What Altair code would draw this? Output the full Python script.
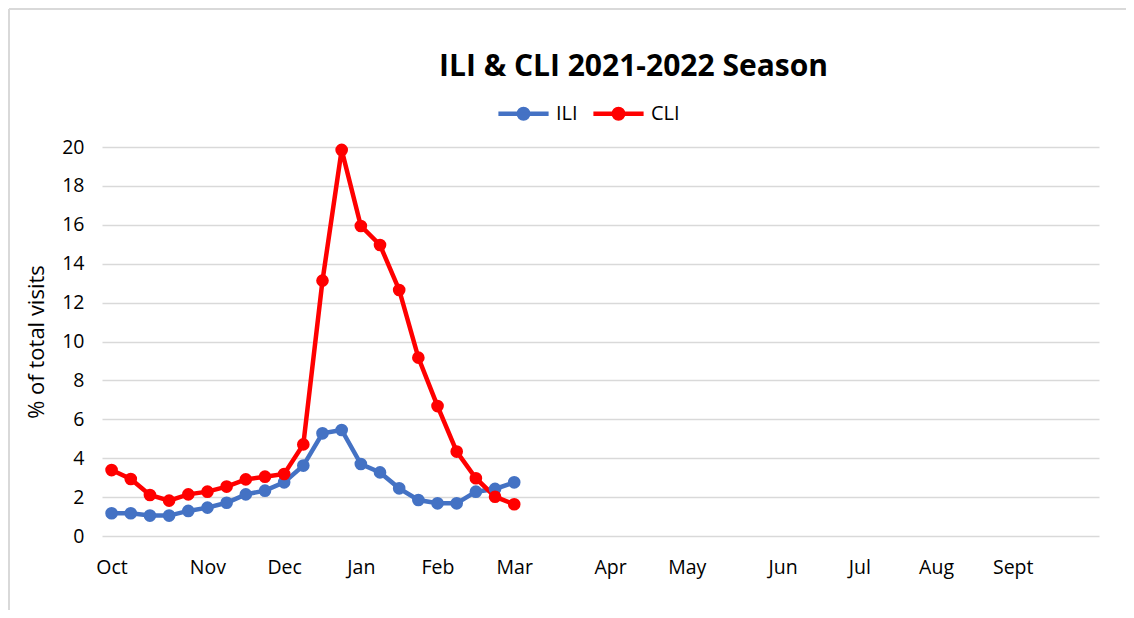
import altair as alt
import pandas as pd

# ---- data ----
weeks = list(range(22))  # weekly index from first week of Oct
ili = [1.17, 1.17, 1.05, 1.05, 1.29, 1.46, 1.71, 2.14, 2.33, 2.76, 3.62,
       5.28, 5.45, 3.70, 3.27, 2.45, 1.85, 1.68, 1.68, 2.28, 2.42, 2.76]
cli = [3.39, 2.93, 2.11, 1.82, 2.14, 2.28, 2.54, 2.91, 3.05, 3.19, 4.71,
       13.13, 19.85, 15.94, 14.96, 12.65, 9.17, 6.68, 4.34, 2.97, 2.02, 1.63]
series = ["ILI", "CLI"]
colors = ["#4472C4", "#FF0000"]
month_weeks = [0, 5, 9, 13, 17, 21, 26, 30, 35, 39, 43, 47]
month_labels = ["Oct", "Nov", "Dec", "Jan", "Feb", "Mar", "Apr", "May",
                "Jun", "Jul", "Aug", "Sept"]
n_weeks = 52
y_ticks = list(range(0, 21, 2))

rows = []
for name, vals in zip(series, [ili, cli]):
    for w, v in zip(weeks, vals):
        rows.append({"week": w, "value": v, "series": name})
df = pd.DataFrame(rows)

FONT = "Open Sans"
GRID = "#D9D9D9"

label_expr = "[" + ",".join("'%s'" % m for m in month_labels) + "][indexof([" + \
    ",".join(str(w) for w in month_weeks) + "], datum.value)]"

x_enc = alt.X("week:Q",
              scale=alt.Scale(domain=[-0.5, n_weeks - 0.5], nice=False, zero=False),
              axis=alt.Axis(values=month_weeks, labelExpr=label_expr, title=None,
                            grid=False, ticks=False, domain=False,
                            labelFont=FONT, labelFontSize=19.5, labelColor="#000000",
                            labelPadding=22, labelFlush=False, labelOverlap=False))
y_enc = alt.Y("value:Q",
              scale=alt.Scale(domain=[0, 20], nice=False),
              axis=alt.Axis(values=y_ticks, title="% of total visits",
                            titleFont=FONT, titleFontSize=22, titleFontWeight="normal",
                            titleColor="#000000", titlePadding=13,
                            grid=True, gridColor=GRID, gridWidth=1.6,
                            ticks=False, domain=False,
                            labelFont=FONT, labelFontSize=19.5, labelColor="#000000",
                            labelPadding=18))

legend_symbol = ("M-1,-0.07L1,-0.07L1,0.07L-1,0.07Z"
                 "M-0.26,0A0.26,0.26,0,1,1,0.26,0A0.26,0.26,0,1,1,-0.26,0Z")

color_enc = alt.Color("series:N", scale=alt.Scale(domain=series, range=colors),
                      legend=alt.Legend(title=None, orient="none", direction="horizontal",
                                        legendX=396, legendY=-59,
                                        symbolType=legend_symbol, symbolSize=2401,
                                        symbolStrokeWidth=1.2, labelOffset=7,
                                        columnPadding=13, padding=0,
                                        labelFont=FONT, labelFontSize=20,
                                        labelColor="#000000"))

lines = alt.Chart(df).mark_line(strokeWidth=4.5).encode(
    x=x_enc, y=y_enc, color=color_enc,
)

points = alt.Chart(df).mark_point(filled=True, size=160, opacity=1, shape="circle").encode(
    x=x_enc, y=y_enc, color=color_enc,
)

border_left = alt.Chart(df).mark_rule(color=GRID, strokeWidth=1.5).encode(
    x=alt.value(-93), y=alt.value(-138), y2=alt.value(470))
border_top = alt.Chart(df).mark_rule(color=GRID, strokeWidth=1.5).encode(
    x=alt.value(-93), x2=alt.value(1030), y=alt.value(-138))

chart = alt.layer(border_left, border_top, lines, points).properties(
    width=997, height=389,
    title=alt.TitleParams("ILI & CLI 2021-2022 Season", font=FONT, fontSize=30,
                          fontWeight="bold", color="#000000", anchor="middle",
                          baseline="alphabetic", dx=33, dy=98, offset=0),
    autosize=alt.AutoSizeParams(type="none"),
    padding={"left": 94, "top": 139, "right": 27, "bottom": 74},
    background="#FFFFFF",
).configure_view(stroke=None)

chart.save("out.html", embed_options={"renderer": "svg", "actions": False})
